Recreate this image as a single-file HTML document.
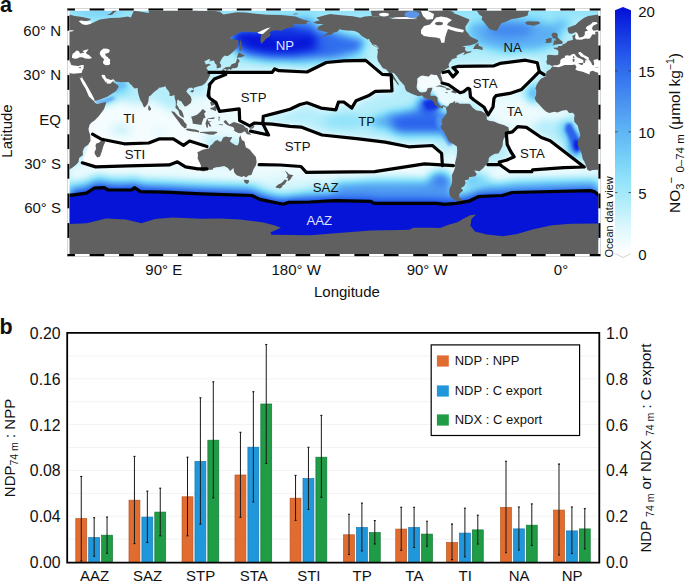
<!DOCTYPE html><html><head><meta charset="utf-8"><style>
html,body{margin:0;padding:0;background:#fff;}
body{width:685px;height:582px;position:relative;overflow:hidden;font-family:"Liberation Sans", sans-serif;color:#111;}
.t{position:absolute;white-space:nowrap;line-height:1;}
svg{position:absolute;left:0;top:0;}
</style></head><body>
<svg width="685" height="582" viewBox="0 0 685 582" font-family='"Liberation Sans", sans-serif'>
<defs>
<clipPath id="mc"><rect x="69.3" y="10.5" width="529.1" height="243.5"/></clipPath>
<filter id="fld" x="-5%" y="-5%" width="110%" height="110%" color-interpolation-filters="sRGB"><feGaussianBlur stdDeviation="5"/><feComponentTransfer><feFuncR type="table" tableValues="1.0000 0.8706 0.7137 0.5725 0.4549 0.3765 0.3059 0.2275 0.1569 0.0863 0.0235"/><feFuncG type="table" tableValues="1.0000 0.9725 0.9333 0.8902 0.8118 0.7098 0.6000 0.4863 0.3686 0.2275 0.0784"/><feFuncB type="table" tableValues="1.0000 0.9922 0.9843 0.9804 0.9725 0.9608 0.9490 0.9412 0.9255 0.8941 0.8471"/></feComponentTransfer></filter>
<filter id="cmap" x="-5%" y="-5%" width="110%" height="110%" color-interpolation-filters="sRGB"><feComponentTransfer><feFuncR type="table" tableValues="1.0000 0.8706 0.7137 0.5725 0.4549 0.3765 0.3059 0.2275 0.1569 0.0863 0.0235"/><feFuncG type="table" tableValues="1.0000 0.9725 0.9333 0.8902 0.8118 0.7098 0.6000 0.4863 0.3686 0.2275 0.0784"/><feFuncB type="table" tableValues="1.0000 0.9922 0.9843 0.9804 0.9725 0.9608 0.9490 0.9412 0.9255 0.8941 0.8471"/></feComponentTransfer></filter>
<filter id="fld2" x="-5%" y="-5%" width="110%" height="110%" color-interpolation-filters="sRGB"><feGaussianBlur stdDeviation="1.8"/><feComponentTransfer><feFuncR type="table" tableValues="1.0000 0.8706 0.7137 0.5725 0.4549 0.3765 0.3059 0.2275 0.1569 0.0863 0.0235"/><feFuncG type="table" tableValues="1.0000 0.9725 0.9333 0.8902 0.8118 0.7098 0.6000 0.4863 0.3686 0.2275 0.0784"/><feFuncB type="table" tableValues="1.0000 0.9922 0.9843 0.9804 0.9725 0.9608 0.9490 0.9412 0.9255 0.8941 0.8471"/></feComponentTransfer></filter>
</defs>
<g clip-path="url(#mc)">
<g filter="url(#fld)">
<rect x="40.0" y="0.0" width="600.0" height="260.0" fill="#333333"/>
<rect x="40.0" y="0.0" width="600.0" height="18.0" fill="#4c4c4c"/>
<ellipse cx="413.0" cy="14.0" rx="10.0" ry="4.0" fill="#8c8c8c"/>
<ellipse cx="100.0" cy="14.0" rx="25.0" ry="5.0" fill="#666666"/>
<ellipse cx="432.0" cy="80.0" rx="14.0" ry="9.0" fill="#0a0a0a"/>
<path d="M75.0,100.0 L110.0,100.0 L140.0,105.0 L150.0,100.0 L165.0,108.0 L180.0,115.0 L195.0,125.0 L205.0,140.0 L207.0,148.0 L150.0,145.0 L100.0,142.0 L80.0,138.0 L72.0,120.0Z" fill="#080808"/>
<ellipse cx="121.0" cy="130.0" rx="11.0" ry="4.0" fill="#333333"/>
<ellipse cx="160.0" cy="132.0" rx="8.0" ry="4.0" fill="#1a1a1a"/>
<ellipse cx="118.0" cy="80.0" rx="14.0" ry="8.0" fill="#474747"/>
<ellipse cx="106.0" cy="100.0" rx="11.0" ry="2.5" fill="#a6a6a6" transform="rotate(-12 106 100)"/>
<ellipse cx="121.0" cy="88.0" rx="7.0" ry="5.0" fill="#808080"/>
<path d="M209.0,72.4 L272.0,72.4 L274.7,68.9 L279.0,70.7 L307.0,72.0 L326.3,62.5 L343.8,60.8 L365.7,60.4 L382.3,74.4 L391.1,74.8 L392.0,90.9 L375.3,91.4 L368.3,95.8 L356.0,100.7 L351.7,108.1 L343.8,102.0 L338.5,102.0 L335.9,109.8 L321.0,108.1 L307.0,102.8 L300.0,104.5 L290.0,109.2 L275.5,113.1 L263.3,116.2 L262.8,123.6 L254.5,123.0 L249.7,125.8 L239.7,120.6 L239.2,108.8 L219.5,111.3 L216.0,102.6 L209.9,98.2 L208.1,95.5 L209.9,84.2 L214.3,78.9 L225.7,74.5 L225.0,72.6 L209.0,72.4Z" fill="#000000"/>
<path d="M262.8,123.6 L272.0,124.1 L290.0,126.3 L301.0,127.1 L322.0,135.0 L358.8,138.9 L385.1,142.1 L408.7,146.8 L432.4,145.5 L441.6,153.4 L442.4,165.7 L442.4,165.7 L424.5,163.9 L374.6,171.7 L306.3,172.3 L301.0,166.5 L280.0,165.0 L259.1,164.7 L250.0,162.0 L244.0,145.0 L240.0,136.0 L250.6,131.1 L268.5,135.0Z" fill="#000000"/>
<path d="M443.0,72.5 L448.6,71.2 L453.0,76.9 L457.4,72.1 L453.0,67.7 L458.3,66.4 L494.0,65.8 L499.9,63.4 L525.5,60.2 L537.3,62.8 L539.3,71.7 L533.4,77.6 L521.6,89.4 L509.7,93.4 L496.0,95.7 L494.0,98.3 L493.0,107.2 L488.1,115.0 L484.1,107.2 L474.0,100.0 L470.5,97.0 L469.7,89.2 L467.9,88.3 L463.5,91.8 L460.0,92.7 L448.6,84.8 L442.1,83.0Z" fill="#000000"/>
<path d="M506.3,133.1 L512.4,131.9 L517.7,126.7 L526.4,127.4 L541.3,137.5 L550.1,140.7 L584.2,167.0 L564.1,167.7 L532.6,169.9 L531.7,171.7 L509.8,171.7 L501.0,165.5 L499.3,162.0 L506.3,160.3 L514.2,156.8 L510.7,151.5 L507.2,144.5 L506.3,133.1Z" fill="#000000"/>
<path d="M92.5,134.2 L101.7,139.3 L124.2,143.8 L148.7,143.0 L159.0,138.9 L173.3,138.9 L183.5,145.4 L189.6,141.0 L207.0,146.5 L207.0,168.9 L197.8,168.9 L185.5,166.9 L177.4,161.8 L169.2,164.9 L128.3,165.9 L95.6,166.9 L82.3,162.8Z" fill="#000000"/>
<rect x="69.0" y="166.0" width="530.0" height="14.0" fill="#0d0d0d"/>
<path d="M226.0,36.0 L236.0,28.0 L262.0,26.0 L270.0,22.0 L300.0,20.0 L318.0,26.0 L335.0,32.0 L350.0,36.0 L365.0,40.0 L360.0,52.0 L330.0,58.0 L300.0,60.0 L270.0,60.0 L245.0,56.0 L232.0,48.0Z" fill="#d9d9d9"/>
<ellipse cx="282.0" cy="42.0" rx="40.0" ry="11.0" fill="#ffffff"/>
<ellipse cx="245.0" cy="36.0" rx="12.0" ry="6.0" fill="#ffffff"/>
<ellipse cx="288.0" cy="33.0" rx="24.0" ry="6.0" fill="#ebebeb"/>
<ellipse cx="305.0" cy="24.0" rx="10.0" ry="5.0" fill="#b2b2b2"/>
<ellipse cx="338.0" cy="44.0" rx="22.0" ry="9.0" fill="#bdbdbd"/>
<ellipse cx="322.0" cy="30.0" rx="8.0" ry="4.0" fill="#8c8c8c"/>
<ellipse cx="330.0" cy="62.0" rx="40.0" ry="5.0" fill="#595959"/>
<path d="M468.0,24.0 L500.0,18.0 L540.0,20.0 L560.0,28.0 L560.0,42.0 L540.0,50.0 L505.0,52.0 L480.0,46.0 L468.0,36.0Z" fill="#858585"/>
<ellipse cx="510.0" cy="30.0" rx="24.0" ry="8.0" fill="#a8a8a8"/>
<ellipse cx="470.0" cy="40.0" rx="8.0" ry="8.0" fill="#666666"/>
<ellipse cx="561.0" cy="25.0" rx="10.0" ry="5.0" fill="#808080"/>
<ellipse cx="345.0" cy="121.0" rx="22.0" ry="6.0" fill="#525252"/>
<path d="M385.0,114.0 L420.0,111.0 L442.0,114.0 L447.0,126.0 L442.0,134.0 L400.0,134.0 L387.0,128.0Z" fill="#c7c7c7"/>
<ellipse cx="382.0" cy="122.0" rx="12.0" ry="6.0" fill="#8c8c8c"/>
<ellipse cx="429.0" cy="104.0" rx="11.0" ry="7.0" fill="#f7f7f7"/>
<ellipse cx="422.0" cy="113.0" rx="20.0" ry="4.0" fill="#b8b8b8"/>
<ellipse cx="447.0" cy="126.0" rx="5.0" ry="12.0" fill="#b8b8b8"/>
<ellipse cx="447.0" cy="152.0" rx="5.0" ry="8.0" fill="#333333"/>
<ellipse cx="515.0" cy="112.0" rx="30.0" ry="16.0" fill="#0d0d0d"/>
<ellipse cx="555.0" cy="113.0" rx="18.0" ry="6.0" fill="#0a0a0a"/>
<ellipse cx="575.0" cy="145.0" rx="5.0" ry="12.0" fill="#f2f2f2"/>
<ellipse cx="567.0" cy="129.0" rx="6.0" ry="9.0" fill="#808080"/>
<ellipse cx="533.0" cy="94.0" rx="5.0" ry="9.0" fill="#9e9e9e"/>
<path d="M180.0,100.0 L200.0,95.0 L215.0,100.0 L240.0,112.0 L262.0,122.0 L262.0,135.0 L240.0,140.0 L215.0,137.0 L195.0,133.0 L185.0,125.0 L178.0,112.0Z" fill="#0f0f0f"/>
<ellipse cx="440.0" cy="182.0" rx="12.0" ry="10.0" fill="#bfbfbf"/>
<ellipse cx="478.0" cy="182.0" rx="14.0" ry="7.0" fill="#9e9e9e"/>
<ellipse cx="452.0" cy="160.0" rx="5.0" ry="11.0" fill="#0a0a0a"/>
<path d="M69.0,179.1 L71.9,179.1 L86.6,177.1 L94.4,172.0 L104.2,171.7 L108.1,174.0 L131.6,174.0 L134.5,171.7 L140.4,175.6 L164.8,176.2 L201.0,177.9 L251.9,179.5 L259.7,183.4 L283.2,188.3 L289.0,186.3 L310.0,186.0 L335.0,184.6 L370.8,185.4 L374.0,187.3 L436.8,187.3 L444.6,188.3 L456.3,187.3 L469.0,185.2 L478.8,180.5 L502.3,179.5 L512.0,176.5 L590.3,174.6 L594.2,175.6 L599.0,179.1 L599.0,240.0 L69.0,240.0Z" fill="#1a1a1a"/>
<path d="M69.0,182.6 L71.9,182.6 L86.6,180.6 L94.4,175.5 L104.2,175.2 L108.1,177.5 L131.6,177.5 L134.5,175.2 L140.4,179.1 L164.8,179.7 L201.0,181.4 L251.9,183.0 L259.7,186.9 L283.2,191.8 L289.0,189.8 L310.0,189.5 L335.0,188.1 L370.8,188.9 L374.0,190.8 L436.8,190.8 L444.6,191.8 L456.3,190.8 L469.0,188.7 L478.8,184.0 L502.3,183.0 L512.0,180.0 L590.3,178.1 L594.2,179.1 L599.0,182.6 L599.0,240.0 L69.0,240.0Z" fill="#404040"/>
<path d="M69.0,185.1 L71.9,185.1 L86.6,183.1 L94.4,178.0 L104.2,177.7 L108.1,180.0 L131.6,180.0 L134.5,177.7 L140.4,181.6 L164.8,182.2 L201.0,183.9 L251.9,185.5 L259.7,189.4 L283.2,194.3 L289.0,192.3 L310.0,192.0 L335.0,190.6 L370.8,191.4 L374.0,193.3 L436.8,193.3 L444.6,194.3 L456.3,193.3 L469.0,191.2 L478.8,186.5 L502.3,185.5 L512.0,182.5 L590.3,180.6 L594.2,181.6 L599.0,185.1 L599.0,240.0 L69.0,240.0Z" fill="#666666"/>
<path d="M69.0,187.6 L71.9,187.6 L86.6,185.6 L94.4,180.5 L104.2,180.2 L108.1,182.5 L131.6,182.5 L134.5,180.2 L140.4,184.1 L164.8,184.7 L201.0,186.4 L251.9,188.0 L259.7,191.9 L283.2,196.8 L289.0,194.8 L310.0,194.5 L335.0,193.1 L370.8,193.9 L374.0,195.8 L436.8,195.8 L444.6,196.8 L456.3,195.8 L469.0,193.7 L478.8,189.0 L502.3,188.0 L512.0,185.0 L590.3,183.1 L594.2,184.1 L599.0,187.6 L599.0,240.0 L69.0,240.0Z" fill="#8f8f8f"/>
<path d="M69.0,190.1 L71.9,190.1 L86.6,188.1 L94.4,183.0 L104.2,182.7 L108.1,185.0 L131.6,185.0 L134.5,182.7 L140.4,186.6 L164.8,187.2 L201.0,188.9 L251.9,190.5 L259.7,194.4 L283.2,199.3 L289.0,197.3 L310.0,197.0 L335.0,195.6 L370.8,196.4 L374.0,198.3 L436.8,198.3 L444.6,199.3 L456.3,198.3 L469.0,196.2 L478.8,191.5 L502.3,190.5 L512.0,187.5 L590.3,185.6 L594.2,186.6 L599.0,190.1 L599.0,240.0 L69.0,240.0Z" fill="#b8b8b8"/>
<path d="M69.0,192.6 L71.9,192.6 L86.6,190.6 L94.4,185.5 L104.2,185.2 L108.1,187.5 L131.6,187.5 L134.5,185.2 L140.4,189.1 L164.8,189.7 L201.0,191.4 L251.9,193.0 L259.7,196.9 L283.2,201.8 L289.0,199.8 L310.0,199.5 L335.0,198.1 L370.8,198.9 L374.0,200.8 L436.8,200.8 L444.6,201.8 L456.3,200.8 L469.0,198.7 L478.8,194.0 L502.3,193.0 L512.0,190.0 L590.3,188.1 L594.2,189.1 L599.0,192.6 L599.0,240.0 L69.0,240.0Z" fill="#e0e0e0"/>
<path d="M69.0,195.1 L71.9,195.1 L86.6,193.1 L94.4,188.0 L104.2,187.7 L108.1,190.0 L131.6,190.0 L134.5,187.7 L140.4,191.6 L164.8,192.2 L201.0,193.9 L251.9,195.5 L259.7,199.4 L283.2,204.3 L289.0,202.3 L310.0,202.0 L335.0,200.6 L370.8,201.4 L374.0,203.3 L436.8,203.3 L444.6,204.3 L456.3,203.3 L469.0,201.2 L478.8,196.5 L502.3,195.5 L512.0,192.5 L590.3,190.6 L594.2,191.6 L599.0,195.1 L599.0,240.0 L69.0,240.0Z" fill="#ffffff"/>
<path d="M335.0,183.0 L380.0,181.0 L430.0,181.0 L452.0,184.0 L452.0,197.0 L335.0,199.0Z" fill="#999999"/>
<ellipse cx="395.0" cy="181.0" rx="35.0" ry="3.0" fill="#666666"/>
<path d="M485.0,185.0 L540.0,183.0 L598.0,181.0 L598.0,191.0 L540.0,193.0 L485.0,195.0Z" fill="#999999"/>
<ellipse cx="285.0" cy="185.0" rx="25.0" ry="10.0" fill="#1f1f1f"/>
</g>
<g filter="url(#fld2)">
<path d="M416.9,78.8 L416.9,86.9 L420.6,91.7 L426.5,91.7 L427.2,88.4 L432.3,87.7 L436.8,86.9 L441.2,82.5 L439.0,78.1 L436.8,75.1 L430.9,74.4 L427.9,75.8 L422.0,75.4Z" fill="#080808"/>
<path d="M432.3,88.4 L436.8,97.3 L439.0,104.0 L448.5,105.4 L455.9,101.7 L469.1,103.5 L471.3,97.3 L464.7,92.1 L451.5,89.2 L442.6,86.2 L435.3,86.2Z" fill="#121212"/>
<path d="M95.0,101.0 L104.0,100.5 L112.0,97.0 L116.0,97.5 L112.0,100.0 L104.0,103.0 L96.0,103.0Z" fill="#9e9e9e"/>
<path d="M112.0,84.0 L118.0,82.0 L125.0,83.0 L127.0,86.0 L121.0,88.0 L115.0,93.0 L112.0,91.0Z" fill="#737373"/>
<path d="M423.0,102.0 L431.0,99.0 L438.0,101.5 L441.0,106.0 L435.0,109.5 L427.0,109.0Z" fill="#ebebeb"/>
<path d="M437.0,116.0 L446.0,114.0 L450.0,128.0 L454.0,142.0 L449.0,146.0 L442.0,134.0 L436.0,124.0Z" fill="#9e9e9e"/>
<path d="M566.0,124.0 L571.0,123.0 L578.0,137.0 L581.0,150.0 L576.0,153.0 L571.0,142.0 L565.0,130.0Z" fill="#c7c7c7"/>
<ellipse cx="576.5" cy="145.0" rx="3.0" ry="6.0" fill="#f7f7f7"/>
</g>
<path d="M69.0,195.1 L71.9,195.1 L86.6,193.1 L94.4,188.0 L104.2,187.7 L108.1,190.0 L131.6,190.0 L134.5,187.7 L140.4,191.6 L164.8,192.2 L201.0,193.9 L251.9,195.5 L259.7,199.4 L283.2,204.3 L289.0,202.3 L310.0,202.0 L335.0,200.6 L370.8,201.4 L374.0,203.3 L436.8,203.3 L444.6,204.3 L456.3,203.3 L469.0,201.2 L478.8,196.5 L502.3,195.5 L512.0,192.5 L590.3,190.6 L594.2,191.6 L599.0,195.1 L599.0,240.0 L69.0,240.0Z" fill="#0614d8"/>
<path d="M209.0,72.4 L272.0,72.4 L274.7,68.9 L279.0,70.7 L307.0,72.0 L326.3,62.5 L343.8,60.8 L365.7,60.4 L382.3,74.4 L391.1,74.8 L392.0,90.9 L375.3,91.4 L368.3,95.8 L356.0,100.7 L351.7,108.1 L343.8,102.0 L338.5,102.0 L335.9,109.8 L321.0,108.1 L307.0,102.8 L300.0,104.5 L290.0,109.2 L275.5,113.1 L263.3,116.2 L262.8,123.6 L254.5,123.0 L249.7,125.8 L239.7,120.6 L239.2,108.8 L219.5,111.3 L216.0,102.6 L209.9,98.2 L208.1,95.5 L209.9,84.2 L214.3,78.9 L225.7,74.5 L225.0,72.6 L209.0,72.4Z" fill="#ffffff"/>
<path d="M262.8,123.6 L272.0,124.1 L290.0,126.3 L301.0,127.1 L322.0,135.0 L358.8,138.9 L385.1,142.1 L408.7,146.8 L432.4,145.5 L441.6,153.4 L442.4,165.7 L442.4,165.7 L424.5,163.9 L374.6,171.7 L306.3,172.3 L301.0,166.5 L280.0,165.0 L259.1,164.7 L250.0,162.0 L244.0,145.0 L240.0,136.0 L250.6,131.1 L268.5,135.0Z" fill="#ffffff"/>
<path d="M443.0,72.5 L448.6,71.2 L453.0,76.9 L457.4,72.1 L453.0,67.7 L458.3,66.4 L494.0,65.8 L499.9,63.4 L525.5,60.2 L537.3,62.8 L539.3,71.7 L533.4,77.6 L521.6,89.4 L509.7,93.4 L496.0,95.7 L494.0,98.3 L493.0,107.2 L488.1,115.0 L484.1,107.2 L474.0,100.0 L470.5,97.0 L469.7,89.2 L467.9,88.3 L463.5,91.8 L460.0,92.7 L448.6,84.8 L442.1,83.0Z" fill="#ffffff"/>
<path d="M506.3,133.1 L512.4,131.9 L517.7,126.7 L526.4,127.4 L541.3,137.5 L550.1,140.7 L584.2,167.0 L564.1,167.7 L532.6,169.9 L531.7,171.7 L509.8,171.7 L501.0,165.5 L499.3,162.0 L506.3,160.3 L514.2,156.8 L510.7,151.5 L507.2,144.5 L506.3,133.1Z" fill="#ffffff"/>
<path d="M92.5,134.2 L101.7,139.3 L124.2,143.8 L148.7,143.0 L159.0,138.9 L173.3,138.9 L183.5,145.4 L189.6,141.0 L207.0,146.5 L207.0,168.9 L197.8,168.9 L185.5,166.9 L177.4,161.8 L169.2,164.9 L128.3,165.9 L95.6,166.9 L82.3,162.8Z" fill="#ffffff"/>
<path d="M22.6,66.2 L23.0,66.4 L30.8,67.7 L45.5,70.7 L60.2,75.1 L74.9,74.4 L84.5,73.6 L85.2,64.7 L70.5,58.1 L60.2,51.4 L48.5,51.4 L38.2,54.4 L30.8,58.8 L26.4,64.7Z M552.1,66.2 L552.5,66.4 L560.3,67.7 L575.0,70.7 L589.7,75.1 L604.4,74.4 L614.0,73.6 L614.7,64.7 L600.0,58.1 L589.7,51.4 L577.9,51.4 L567.7,54.4 L560.3,58.8 L555.9,64.7Z" fill="#ffffff"/>
<path d="M77.9,73.6 L83.0,75.1 L94.9,101.0 L94.4,101.7 L85.2,92.9 L77.9,75.8Z" fill="#ffffff"/>
<path d="M100.7,74.4 L105.8,73.6 L114.6,78.8 L114.4,81.0 L113.9,83.2 L105.8,84.7 L101.4,78.1Z" fill="#ffffff"/>
<path d="M44.8,40.3 L44.8,36.6 L47.0,32.2 L54.3,30.0 L55.1,26.3 L61.7,21.1 L69.1,21.8 L68.3,24.0 L64.6,27.7 L64.6,30.0 L76.4,29.2 L75.7,32.2 L67.6,34.4 L63.2,38.1 L51.4,40.6Z M574.3,40.3 L574.3,36.6 L576.5,32.2 L583.8,30.0 L584.6,26.3 L591.2,21.1 L598.5,21.8 L597.8,24.0 L594.1,27.7 L594.1,30.0 L605.9,29.2 L605.2,32.2 L597.1,34.4 L592.7,38.1 L580.9,40.6Z" fill="#ffffff"/>
<path d="M419.8,32.9 L419.8,28.5 L425.0,24.8 L430.9,22.6 L433.8,19.6 L439.7,20.3 L442.6,23.3 L454.4,25.5 L463.2,27.7 L465.4,30.0 L457.3,33.2 L447.3,36.6 L442.6,44.0 L439.7,42.5 L432.3,38.1Z" fill="#ffffff"/>
<path d="M257.3,32.2 L266.1,28.0 L272.0,26.6 L270.6,30.7 L263.2,34.4 L258.8,33.4Z" fill="#ffffff"/>
<path d="M78.3,73.2 L73.5,73.8 L67.6,72.6 L63.2,70.8 L60.4,71.8 L60.1,74.4 L53.2,71.7 L47.7,70.5 L45.8,69.2 L47.0,67.0 L45.5,64.4 L42.6,64.9 L35.2,65.0 L29.3,67.3 L22.7,66.4 L20.8,69.2 L17.1,71.4 L16.5,74.2 L16.1,76.6 L11.7,78.5 L9.5,80.9 L7.3,84.4 L5.8,88.4 L6.8,90.6 L6.5,95.5 L5.1,97.7 L6.2,101.1 L8.7,103.4 L11.4,106.5 L13.9,109.3 L16.8,111.7 L19.8,113.0 L24.9,111.8 L27.9,112.4 L33.0,110.5 L37.3,110.0 L39.6,113.1 L43.3,112.8 L45.2,115.1 L44.6,118.0 L44.8,121.7 L48.2,125.4 L48.9,128.5 L50.2,132.8 L50.8,135.8 L48.9,139.5 L48.2,144.7 L49.2,146.9 L52.1,153.4 L53.2,159.0 L54.9,161.8 L57.0,166.9 L57.9,169.8 L60.2,171.0 L63.2,170.1 L68.5,169.8 L72.0,168.0 L76.3,164.6 L78.5,162.1 L79.1,158.0 L83.0,155.0 L82.7,151.3 L84.5,147.3 L88.2,144.7 L90.5,141.0 L90.2,135.0 L88.9,131.3 L88.5,129.1 L89.6,124.7 L91.9,122.3 L94.8,120.2 L98.5,116.5 L101.4,112.8 L104.1,109.1 L105.8,104.1 L106.3,102.0 L101.4,102.9 L97.0,104.1 L94.2,102.3 L94.5,101.4 L92.1,99.5 L88.9,96.6 L87.4,92.9 L85.5,88.4 L83.0,84.7 L80.8,80.3 L78.8,75.2Z M607.8,73.2 L603.0,73.8 L597.1,72.6 L592.7,70.8 L589.9,71.8 L589.6,74.4 L582.7,71.7 L577.2,70.5 L575.3,69.2 L576.5,67.0 L575.0,64.4 L572.1,64.9 L564.7,65.0 L558.8,67.3 L552.2,66.4 L550.3,69.2 L546.6,71.4 L546.0,74.2 L545.6,76.6 L541.2,78.5 L539.0,80.9 L536.8,84.4 L535.3,88.4 L536.3,90.6 L536.0,95.5 L534.6,97.7 L535.7,101.1 L538.2,103.4 L540.9,106.5 L543.4,109.3 L546.3,111.7 L549.3,113.0 L554.4,111.8 L557.4,112.4 L562.5,110.5 L566.8,110.0 L569.1,113.1 L572.8,112.8 L574.7,115.1 L574.1,118.0 L574.3,121.7 L577.7,125.4 L578.4,128.5 L579.7,132.8 L580.3,135.8 L578.4,139.5 L577.7,144.7 L578.7,146.9 L581.6,153.4 L582.7,159.0 L584.4,161.8 L586.5,166.9 L587.4,169.8 L589.7,171.0 L592.7,170.1 L598.0,169.8 L601.5,168.0 L605.7,164.6 L608.0,162.1 L608.5,158.0 L612.5,155.0 L612.2,151.3 L614.0,147.3 L617.7,144.7 L620.0,141.0 L619.7,135.0 L618.4,131.3 L618.0,129.1 L619.1,124.7 L621.3,122.3 L624.3,120.2 L628.0,116.5 L630.9,112.8 L633.5,109.1 L635.3,104.1 L635.8,102.0 L630.9,102.9 L626.5,104.1 L623.7,102.3 L624.0,101.4 L621.6,99.5 L618.4,96.6 L616.9,92.9 L615.0,88.4 L612.5,84.7 L610.3,80.3 L608.2,75.2Z M22.6,66.2 L24.3,65.2 L27.7,65.2 L30.1,63.9 L31.1,62.1 L30.4,61.0 L32.1,58.8 L35.5,57.5 L35.4,55.7 L37.7,55.3 L40.5,55.7 L41.8,54.7 L43.8,53.8 L45.8,54.5 L46.3,56.0 L48.8,57.8 L51.4,58.8 L53.9,60.3 L53.9,63.0 L54.5,63.4 L56.0,61.8 L55.2,60.2 L58.0,60.2 L55.8,58.8 L54.3,57.5 L51.4,56.5 L48.9,53.6 L49.0,52.3 L51.0,52.0 L52.9,53.5 L54.3,55.1 L56.6,55.9 L59.3,57.5 L59.3,59.7 L60.7,61.0 L61.8,62.8 L62.7,64.9 L63.9,65.6 L64.8,64.0 L64.3,61.9 L64.1,59.9 L66.0,59.4 L69.1,59.1 L69.3,61.2 L70.5,62.8 L71.0,64.7 L72.3,65.2 L75.7,65.8 L78.6,66.1 L81.7,65.0 L84.1,65.3 L83.5,67.0 L83.8,68.3 L83.0,69.3 L82.3,70.7 L81.6,72.9 L78.3,73.3 L78.6,75.2 L80.1,77.8 L81.3,78.4 L82.1,75.8 L82.3,78.1 L85.2,82.5 L88.2,87.7 L91.9,94.3 L94.1,98.5 L94.6,100.7 L97.0,100.6 L102.1,98.8 L107.6,96.4 L112.3,93.6 L115.4,91.5 L117.3,89.3 L118.8,86.2 L116.9,84.4 L113.8,82.6 L113.6,80.7 L112.4,81.8 L110.2,83.7 L106.6,83.5 L106.7,81.2 L105.5,82.5 L104.4,80.3 L102.1,77.3 L101.4,75.1 L102.9,74.7 L104.8,75.0 L105.5,76.9 L106.6,78.4 L111.0,80.1 L113.6,79.2 L115.4,81.5 L121.4,82.2 L128.6,81.9 L130.1,84.0 L131.6,84.9 L132.3,86.3 L134.5,88.6 L137.6,88.0 L137.9,91.4 L138.8,95.8 L140.4,100.3 L142.3,103.2 L143.3,106.3 L144.8,107.5 L145.8,106.3 L147.4,104.3 L148.3,101.7 L148.9,96.6 L150.7,95.4 L153.5,92.6 L156.0,90.6 L158.5,88.7 L158.8,87.7 L161.0,87.4 L163.2,86.9 L165.4,86.2 L166.7,88.9 L168.3,90.6 L169.8,93.6 L169.4,95.8 L171.3,96.1 L174.4,95.1 L174.7,98.0 L175.7,101.7 L175.8,105.0 L175.4,107.7 L178.3,110.6 L179.8,115.2 L183.0,117.6 L184.1,117.4 L182.9,113.3 L181.3,110.3 L179.4,109.3 L178.3,106.9 L176.7,104.7 L177.3,100.3 L178.2,99.4 L179.4,100.7 L181.6,101.4 L182.3,103.2 L185.0,106.8 L187.5,105.4 L191.0,102.8 L191.6,99.5 L190.7,96.6 L187.5,93.0 L186.3,91.4 L187.7,88.9 L189.7,87.7 L192.3,87.7 L193.2,89.5 L194.1,87.7 L197.7,86.6 L202.2,85.6 L205.5,82.9 L208.0,79.2 L210.1,75.2 L210.1,72.9 L208.6,71.1 L206.3,68.1 L208.2,66.1 L211.0,64.9 L208.8,63.7 L205.8,64.4 L205.1,62.4 L204.1,61.5 L206.6,60.3 L209.1,59.0 L210.5,59.7 L209.1,61.8 L211.0,61.0 L213.9,60.6 L215.1,63.6 L216.6,64.7 L216.7,68.4 L218.5,68.1 L221.0,67.3 L221.1,65.0 L219.7,62.7 L221.6,59.0 L223.0,56.9 L225.0,55.6 L227.2,56.2 L230.1,54.5 L234.1,50.7 L237.0,48.0 L237.5,44.8 L238.8,41.8 L237.8,40.3 L233.3,39.3 L229.7,38.5 L232.3,35.9 L237.5,33.4 L241.1,31.7 L248.5,31.7 L254.4,32.2 L258.8,31.9 L266.1,28.5 L270.6,27.3 L263.2,33.7 L261.0,35.1 L260.3,41.1 L261.3,44.0 L263.9,41.2 L266.1,38.8 L269.8,36.3 L270.8,34.0 L269.1,33.2 L271.6,31.0 L275.0,30.3 L281.6,30.7 L286.0,28.2 L291.9,27.0 L294.8,27.3 L294.1,25.5 L292.6,23.7 L298.5,24.3 L305.9,24.3 L307.3,21.8 L310.3,21.5 L302.9,19.6 L298.5,17.7 L295.6,16.6 L280.8,15.0 L267.6,14.7 L255.8,13.8 L245.5,12.5 L236.7,12.2 L223.5,14.4 L219.8,11.8 L213.2,10.7 L198.5,10.6 L195.5,7.0 L185.2,4.1 L175.0,6.3 L160.2,7.8 L148.5,10.7 L149.2,12.9 L145.5,12.5 L139.7,11.5 L133.8,10.7 L130.8,17.4 L127.9,16.6 L119.1,17.7 L110.2,18.1 L99.9,19.5 L95.5,21.5 L90.4,23.9 L86.7,24.0 L82.3,21.8 L89.6,20.3 L91.1,18.9 L82.3,16.9 L74.9,15.9 L69.1,14.4 L58.8,15.9 L54.3,18.1 L49.2,21.8 L46.3,24.8 L38.2,27.7 L38.2,30.7 L39.6,33.4 L42.6,33.7 L46.3,31.9 L47.7,32.9 L48.5,34.4 L49.6,37.5 L51.8,37.2 L54.3,36.3 L55.2,34.7 L55.4,31.6 L58.5,30.7 L56.3,28.3 L57.3,26.6 L61.7,24.0 L62.9,22.3 L66.8,22.1 L68.2,23.4 L63.6,25.8 L62.4,28.5 L63.9,30.7 L69.1,30.1 L74.2,30.4 L72.0,31.4 L66.1,31.7 L65.4,32.9 L66.6,34.3 L62.6,34.5 L61.7,36.6 L60.1,38.8 L58.2,38.7 L55.8,38.5 L51.7,39.7 L47.0,39.6 L46.3,38.7 L45.5,37.4 L46.3,34.3 L42.7,35.9 L43.5,37.7 L43.5,39.7 L41.1,40.5 L38.2,41.1 L37.0,42.5 L35.7,43.6 L33.2,44.2 L32.9,45.4 L30.8,46.1 L28.9,46.1 L28.2,47.4 L23.9,47.7 L24.5,48.8 L27.7,49.8 L29.0,51.4 L28.6,55.1 L25.2,55.3 L19.0,54.8 L17.3,55.7 L17.7,58.8 L16.8,62.2 L17.9,64.7 L19.9,64.4 L21.5,65.5Z M552.1,66.2 L553.8,65.2 L557.2,65.2 L559.6,63.9 L560.6,62.1 L559.9,61.0 L561.6,58.8 L565.0,57.5 L564.9,55.7 L567.2,55.3 L570.0,55.7 L571.3,54.7 L573.2,53.8 L575.3,54.5 L575.7,56.0 L578.2,57.8 L580.9,58.8 L583.4,60.3 L583.4,63.0 L584.0,63.4 L585.5,61.8 L584.7,60.2 L587.5,60.2 L585.3,58.8 L583.8,57.5 L580.9,56.5 L578.4,53.6 L578.5,52.3 L580.4,52.0 L582.4,53.5 L583.8,55.1 L586.0,55.9 L588.8,57.5 L588.8,59.7 L590.2,61.0 L591.3,62.8 L592.2,64.9 L593.4,65.6 L594.3,64.0 L593.8,61.9 L593.5,59.9 L595.5,59.4 L598.5,59.1 L598.8,61.2 L600.0,62.8 L600.5,64.7 L601.8,65.2 L605.2,65.8 L608.1,66.1 L611.2,65.0 L613.5,65.3 L613.0,67.0 L613.2,68.3 L612.5,69.3 L611.8,70.7 L611.0,72.9 L607.8,73.3 L608.1,75.2 L609.6,77.8 L610.7,78.4 L611.6,75.8 L611.8,78.1 L614.7,82.5 L617.7,87.7 L621.3,94.3 L623.5,98.5 L624.1,100.7 L626.5,100.6 L631.6,98.8 L637.1,96.4 L641.8,93.6 L644.9,91.5 L646.8,89.3 L648.3,86.2 L646.3,84.4 L643.3,82.6 L643.1,80.7 L641.9,81.8 L639.7,83.7 L636.0,83.5 L636.2,81.2 L635.0,82.5 L633.8,80.3 L631.6,77.3 L630.9,75.1 L632.4,74.7 L634.3,75.0 L635.0,76.9 L636.0,78.4 L640.5,80.1 L643.1,79.2 L644.9,81.5 L650.9,82.2 L658.1,81.9 L659.6,84.0 L661.0,84.9 L661.8,86.3 L664.0,88.6 L667.1,88.0 L667.4,91.4 L668.3,95.8 L669.9,100.3 L671.8,103.2 L672.8,106.3 L674.3,107.5 L675.3,106.3 L676.9,104.3 L677.8,101.7 L678.4,96.6 L680.2,95.4 L683.0,92.6 L685.5,90.6 L688.0,88.7 L688.3,87.7 L690.5,87.4 L692.7,86.9 L694.9,86.2 L696.2,88.9 L697.8,90.6 L699.3,93.6 L698.8,95.8 L700.8,96.1 L703.9,95.1 L704.1,98.0 L705.2,101.7 L705.3,105.0 L704.9,107.7 L707.8,110.6 L709.3,115.2 L712.5,117.6 L713.6,117.4 L712.4,113.3 L710.8,110.3 L708.9,109.3 L707.8,106.9 L706.2,104.7 L706.8,100.3 L707.7,99.4 L708.9,100.7 L711.1,101.4 L711.8,103.2 L714.4,106.8 L716.9,105.4 L720.5,102.8 L721.1,99.5 L720.2,96.6 L716.9,93.0 L715.8,91.4 L717.2,88.9 L719.1,87.7 L721.8,87.7 L722.7,89.5 L723.6,87.7 L727.2,86.6 L731.6,85.6 L735.0,82.9 L737.5,79.2 L739.6,75.2 L739.6,72.9 L738.1,71.1 L735.8,68.1 L737.7,66.1 L740.5,64.9 L738.3,63.7 L735.3,64.4 L734.6,62.4 L733.6,61.5 L736.1,60.3 L738.6,59.0 L740.0,59.7 L738.6,61.8 L740.5,61.0 L743.4,60.6 L744.6,63.6 L746.1,64.7 L746.2,68.4 L748.0,68.1 L750.5,67.3 L750.6,65.0 L749.2,62.7 L751.1,59.0 L752.5,56.9 L754.4,55.6 L756.7,56.2 L759.6,54.5 L763.6,50.7 L766.5,48.0 L766.9,44.8 L768.3,41.8 L767.2,40.3 L762.8,39.3 L759.2,38.5 L761.8,35.9 L766.9,33.4 L770.6,31.7 L778.0,31.7 L783.9,32.2 L788.3,31.9 L795.6,28.5 L800.0,27.3 L792.7,33.7 L790.5,35.1 L789.7,41.1 L790.8,44.0 L793.4,41.2 L795.6,38.8 L799.3,36.3 L800.3,34.0 L798.6,33.2 L801.1,31.0 L804.5,30.3 L811.1,30.7 L815.5,28.2 L821.4,27.0 L824.3,27.3 L823.6,25.5 L822.1,23.7 L828.0,24.3 L835.3,24.3 L836.8,21.8 L839.8,21.5 L832.4,19.6 L828.0,17.7 L825.0,16.6 L810.3,15.0 L797.1,14.7 L785.3,13.8 L775.0,12.5 L766.2,12.2 L753.0,14.4 L749.3,11.8 L742.7,10.7 L728.0,10.6 L725.0,7.0 L714.7,4.1 L704.4,6.3 L689.7,7.8 L678.0,10.7 L678.7,12.9 L675.0,12.5 L669.1,11.5 L663.3,10.7 L660.3,17.4 L657.4,16.6 L648.5,17.7 L639.7,18.1 L629.4,19.5 L625.0,21.5 L619.9,23.9 L616.2,24.0 L611.8,21.8 L619.1,20.3 L620.6,18.9 L611.8,16.9 L604.4,15.9 L598.5,14.4 L588.2,15.9 L583.8,18.1 L578.7,21.8 L575.7,24.8 L567.7,27.7 L567.7,30.7 L569.1,33.4 L572.1,33.7 L575.7,31.9 L577.2,32.9 L577.9,34.4 L579.1,37.5 L581.3,37.2 L583.8,36.3 L584.7,34.7 L584.9,31.6 L588.0,30.7 L585.7,28.3 L586.8,26.6 L591.2,24.0 L592.4,22.3 L596.3,22.1 L597.7,23.4 L593.1,25.8 L591.9,28.5 L593.4,30.7 L598.5,30.1 L603.7,30.4 L601.5,31.4 L595.6,31.7 L594.9,32.9 L596.0,34.3 L592.1,34.5 L591.2,36.6 L589.6,38.8 L587.7,38.7 L585.3,38.5 L581.2,39.7 L576.5,39.6 L575.7,38.7 L575.0,37.4 L575.7,34.3 L572.2,35.9 L572.9,37.7 L572.9,39.7 L570.6,40.5 L567.7,41.1 L566.5,42.5 L565.2,43.6 L562.7,44.2 L562.4,45.4 L560.3,46.1 L558.4,46.1 L557.7,47.4 L553.4,47.7 L554.0,48.8 L557.2,49.8 L558.5,51.4 L558.1,55.1 L554.7,55.3 L548.5,54.8 L546.8,55.7 L547.2,58.8 L546.3,62.2 L547.4,64.7 L549.4,64.4 L551.0,65.5Z M313.2,22.4 L317.6,24.0 L323.5,24.0 L317.6,27.0 L317.6,30.0 L322.0,31.0 L327.9,32.6 L325.0,34.8 L319.8,37.8 L325.0,35.7 L330.9,34.7 L334.5,32.3 L337.0,31.9 L339.7,29.2 L342.6,30.0 L347.0,30.4 L352.9,30.8 L355.9,31.4 L358.8,33.1 L361.7,35.9 L364.7,37.8 L367.6,39.6 L369.1,38.8 L369.8,41.1 L372.0,44.0 L375.7,46.2 L379.1,48.0 L377.2,49.2 L377.9,51.4 L377.2,56.6 L377.6,59.7 L378.4,61.8 L380.1,64.0 L381.0,65.5 L382.9,68.3 L386.0,69.2 L388.1,71.4 L389.7,75.1 L392.2,78.1 L395.1,81.0 L398.5,85.6 L398.7,83.8 L396.3,80.3 L394.1,76.6 L391.6,72.6 L394.1,73.2 L397.0,76.6 L399.5,80.3 L404.4,85.5 L405.4,89.2 L406.6,91.2 L411.0,93.5 L413.5,94.6 L418.4,96.3 L422.0,95.5 L424.5,97.9 L427.9,99.1 L431.6,100.1 L434.3,103.1 L434.4,104.8 L435.9,105.3 L437.3,107.1 L440.1,107.5 L442.6,108.5 L443.5,106.3 L445.3,107.2 L446.5,108.0 L446.3,106.6 L443.4,105.3 L440.4,106.2 L439.0,105.3 L437.2,103.2 L437.5,101.0 L437.6,97.4 L435.3,95.8 L430.6,96.1 L430.4,93.6 L431.6,90.6 L432.6,87.7 L430.1,87.8 L427.3,88.4 L427.2,90.2 L425.7,92.1 L421.5,92.6 L419.4,91.8 L417.2,89.2 L416.6,86.9 L417.3,81.8 L417.3,78.4 L420.6,76.1 L422.5,75.5 L427.9,76.4 L429.1,76.3 L430.9,74.2 L434.5,75.1 L436.8,75.1 L438.5,78.1 L440.1,81.0 L441.0,82.2 L442.5,81.0 L441.8,77.5 L440.6,74.4 L441.2,72.3 L443.4,70.7 L445.7,69.2 L449.3,67.3 L448.5,64.9 L449.3,62.7 L451.3,60.6 L451.6,59.4 L455.9,58.1 L457.3,57.6 L456.3,55.9 L458.8,54.4 L461.8,53.2 L463.2,52.5 L465.0,52.5 L463.2,54.7 L463.8,55.1 L466.9,53.5 L470.6,52.5 L471.8,51.1 L469.8,51.6 L466.2,51.4 L465.0,49.2 L465.4,47.3 L463.2,46.5 L461.8,46.2 L470.6,45.2 L476.3,43.3 L477.9,41.8 L478.2,40.3 L475.0,38.8 L472.1,37.4 L469.8,35.9 L468.4,33.7 L465.4,30.3 L464.0,32.2 L461.0,33.2 L458.1,32.2 L457.3,29.2 L451.5,27.3 L445.6,27.1 L445.6,30.7 L446.3,33.7 L447.8,36.6 L444.1,38.8 L443.4,43.3 L439.7,41.8 L432.3,37.4 L425.0,35.1 L421.3,32.2 L421.3,29.2 L425.0,26.6 L427.2,25.5 L432.3,24.0 L433.8,21.1 L436.0,20.3 L439.7,17.4 L435.3,16.3 L430.9,18.1 L427.9,18.1 L422.0,16.6 L419.1,18.9 L416.2,19.2 L410.3,18.9 L401.5,18.6 L392.6,18.9 L388.2,17.1 L380.9,16.6 L375.0,16.6 L370.6,15.9 L364.7,16.6 L360.3,17.7 L352.9,16.3 L344.1,15.5 L336.7,14.7 L330.1,14.0 L325.0,15.2 L320.6,16.6 L316.1,17.7 L319.8,20.2 L316.9,21.1Z M446.6,106.9 L448.5,105.7 L449.3,104.0 L450.3,103.2 L452.5,102.8 L454.7,101.1 L455.4,102.0 L455.0,103.5 L457.0,102.3 L459.7,103.8 L463.2,103.8 L466.2,103.8 L469.1,103.7 L470.6,104.7 L472.1,106.9 L474.3,109.1 L476.5,110.6 L480.9,110.9 L483.8,112.4 L485.3,113.6 L486.8,116.8 L486.8,119.5 L489.0,120.7 L494.1,121.4 L498.5,123.5 L503.7,125.0 L508.4,127.2 L509.1,130.6 L508.4,133.6 L505.9,135.8 L503.7,138.7 L502.9,141.7 L502.6,145.7 L500.7,149.8 L498.5,153.4 L494.8,153.8 L491.2,155.8 L488.8,158.0 L488.5,161.7 L486.0,164.8 L483.1,168.3 L481.6,169.5 L479.4,171.2 L476.5,170.7 L474.3,170.4 L476.0,173.1 L476.8,174.3 L475.4,176.2 L469.1,177.2 L468.7,179.4 L464.7,180.2 L465.7,182.8 L464.3,186.1 L461.0,188.0 L463.2,190.5 L459.6,193.6 L458.8,196.5 L459.8,197.9 L464.0,200.9 L461.0,201.6 L457.3,200.9 L454.4,199.4 L450.7,197.2 L449.3,193.5 L449.3,189.1 L451.5,184.6 L452.2,180.9 L452.0,175.0 L453.7,171.3 L455.1,167.6 L455.1,162.4 L456.6,156.5 L457.2,150.6 L456.9,146.6 L454.4,144.7 L449.3,141.7 L447.9,139.5 L445.6,135.0 L443.4,131.0 L440.9,128.4 L440.7,125.9 L442.6,123.9 L441.5,121.7 L442.6,118.3 L444.1,117.3 L444.7,115.8 L446.6,113.6 L446.5,109.9 L445.7,108.7Z M496.3,31.0 L489.7,29.2 L486.0,24.8 L483.8,21.8 L481.6,19.6 L482.3,16.6 L479.4,14.7 L477.9,12.2 L475.0,8.5 L469.1,6.3 L457.3,4.1 L530.9,4.1 L530.9,8.5 L527.9,12.9 L527.9,15.2 L525.0,16.6 L516.2,18.6 L511.8,18.9 L505.9,21.8 L501.5,23.3 L499.3,26.3 L497.8,29.2Z M525.0,22.6 L527.9,21.2 L533.8,21.5 L538.2,21.4 L540.4,23.0 L538.2,24.3 L533.8,25.7 L529.4,25.1 L526.9,24.8Z M551.9,45.5 L555.9,44.6 L562.4,43.7 L562.8,41.7 L560.6,40.3 L558.1,38.1 L557.4,36.6 L557.7,34.3 L555.9,32.8 L552.9,32.8 L551.5,34.4 L552.1,36.6 L553.2,38.4 L555.4,38.4 L555.9,40.6 L553.5,40.6 L554.1,42.1 L552.7,43.0 L554.1,43.7Z M551.5,42.5 L551.5,39.7 L552.2,38.5 L549.3,37.7 L547.8,38.8 L545.6,39.3 L546.3,41.1 L545.2,42.8 L547.8,43.1Z M223.3,69.2 L223.5,68.4 L226.4,67.0 L230.1,66.7 L231.6,64.3 L233.8,63.6 L236.0,62.5 L236.7,59.6 L237.5,58.2 L238.9,59.6 L239.7,61.3 L238.2,63.3 L238.0,65.5 L237.5,67.3 L236.4,67.8 L234.5,68.3 L232.3,68.3 L230.8,69.9 L229.4,68.9 L225.0,69.3Z M221.6,69.9 L223.5,69.3 L225.0,70.7 L223.9,73.0 L222.3,73.3Z M225.7,69.5 L228.6,68.9 L228.9,69.5 L226.4,71.0Z M236.7,58.1 L237.5,55.6 L238.9,52.3 L241.9,53.9 L244.8,55.4 L241.6,57.3 L238.2,57.6Z M239.7,51.4 L239.4,48.5 L240.0,42.5 L240.7,39.1 L241.4,42.5 L241.4,46.7 L243.3,47.0 L241.1,49.2 L240.4,51.4Z M207.5,85.5 L208.6,86.9 L210.1,83.2 L209.5,82.1 L207.6,84.3Z M190.5,91.1 L193.3,89.8 L194.1,90.5 L192.6,92.6 L190.7,92.1Z M207.3,92.1 L210.5,92.1 L210.7,95.4 L209.7,97.3 L210.2,98.8 L213.2,100.3 L212.2,100.6 L209.8,99.1 L208.2,98.5 L207.0,95.4Z M210.1,109.1 L210.8,107.7 L213.5,107.2 L215.4,105.1 L216.9,108.7 L215.5,111.2 L213.2,110.0Z M210.2,102.0 L212.0,101.0 L215.4,101.0 L215.8,104.0 L214.4,104.7 L211.7,105.9 L210.5,104.0Z M191.1,116.8 L192.2,119.8 L192.9,123.8 L195.1,123.9 L198.5,124.5 L201.4,125.1 L202.3,121.7 L203.6,118.3 L205.5,117.7 L204.1,113.6 L206.1,111.7 L202.9,109.1 L201.4,110.2 L200.5,111.8 L197.0,114.8 L194.4,115.8 L192.0,116.5Z M171.0,111.2 L174.2,111.8 L178.3,116.2 L183.0,119.5 L184.5,122.2 L186.7,124.2 L186.4,128.1 L184.5,128.2 L181.3,125.4 L179.2,122.5 L176.4,118.8 L174.2,115.8Z M185.5,129.6 L187.5,128.4 L190.1,128.8 L193.3,129.3 L196.3,129.7 L199.2,130.9 L199.1,132.4 L195.5,131.8 L192.6,131.5 L189.7,131.0 L187.3,130.5Z M200.0,132.1 L205.8,131.8 L210.2,131.6 L214.7,131.6 L217.6,131.9 L216.9,133.1 L213.2,134.7 L208.8,134.6 L202.9,133.0 L200.0,132.7Z M205.5,123.6 L206.6,127.6 L207.9,127.8 L207.9,123.6 L209.5,126.6 L211.4,126.6 L209.2,122.3 L212.2,120.8 L208.5,121.4 L207.5,118.5 L214.7,117.3 L213.9,118.9 L208.2,119.1 L206.9,119.2Z M218.3,116.5 L220.3,117.3 L219.1,118.8 L219.8,120.7 L218.3,120.2 L218.8,118.0Z M218.8,124.2 L223.2,124.5 L222.8,125.3 L219.1,125.1Z M223.5,121.4 L225.7,120.1 L229.4,124.4 L233.8,121.9 L238.2,123.3 L243.3,125.1 L245.5,127.6 L247.8,128.4 L248.2,131.3 L251.4,134.7 L247.0,134.3 L244.8,131.3 L241.9,132.8 L240.4,133.3 L238.2,133.0 L235.3,131.5 L233.8,130.3 L234.5,129.1 L233.0,127.0 L229.4,125.9 L227.2,125.1 L225.0,123.6Z M248.9,127.6 L251.4,127.2 L253.6,125.7 L254.7,126.0 L252.9,128.5 L250.0,128.7Z M197.3,152.1 L198.6,151.8 L202.6,149.8 L205.8,149.1 L208.8,148.4 L210.5,145.4 L212.5,143.9 L215.0,141.0 L217.6,139.9 L219.4,141.6 L221.4,141.6 L222.3,139.3 L223.3,137.6 L225.8,136.4 L228.9,137.3 L231.6,137.1 L232.2,137.9 L230.8,139.2 L230.0,141.4 L232.3,143.2 L235.7,145.3 L237.9,145.3 L239.1,141.7 L239.1,138.1 L240.4,135.3 L241.9,139.9 L244.5,141.6 L245.8,147.3 L249.7,149.5 L252.2,152.8 L255.8,156.8 L256.7,161.7 L255.8,165.4 L253.6,169.1 L251.4,174.9 L248.3,175.6 L246.0,177.4 L243.9,176.0 L241.7,176.9 L237.8,175.7 L236.1,174.7 L234.1,172.2 L233.5,168.0 L230.1,171.0 L227.9,167.9 L224.2,166.1 L219.1,166.9 L216.1,167.3 L213.2,168.3 L212.5,169.7 L207.3,169.7 L204.4,171.3 L202.2,171.3 L200.0,170.3 L201.0,168.8 L201.0,166.1 L200.0,163.2 L198.8,160.9 L197.6,158.3 L198.0,155.8 L197.6,152.8Z M243.6,179.7 L248.9,180.0 L248.8,182.4 L247.0,184.0 L244.8,182.8Z M284.8,170.4 L287.5,172.5 L288.9,174.3 L293.3,175.3 L291.4,177.4 L290.8,179.0 L288.5,181.1 L287.6,180.5 L288.2,178.4 L286.4,177.7 L287.6,175.9 L287.0,174.0Z M284.8,179.4 L287.2,180.6 L285.6,182.8 L284.8,184.3 L282.8,185.2 L281.7,187.4 L279.8,188.5 L275.7,187.6 L275.8,186.4 L278.3,184.6 L281.6,183.1 L283.1,181.4Z M103.3,137.3 L105.1,142.3 L103.5,145.8 L101.4,152.8 L100.1,156.4 L97.3,157.4 L94.9,154.3 L94.5,152.1 L96.0,149.1 L95.5,145.4 L96.3,143.5 L98.9,142.7 L101.1,140.7Z M148.2,107.7 L148.8,105.0 L150.2,106.9 L151.1,108.7 L150.8,110.0 L149.2,110.8 L148.2,109.4Z M435.4,87.1 L438.2,85.6 L440.4,85.2 L443.4,86.1 L446.3,87.7 L449.1,88.4 L451.2,89.6 L449.3,90.0 L446.0,90.0 L446.6,89.0 L444.8,87.7 L441.2,86.9 L439.0,86.6Z M450.9,92.1 L453.2,90.0 L457.3,90.3 L459.8,92.0 L457.3,92.6 L455.3,93.5Z M445.1,92.3 L448.2,92.6 L447.3,93.2 L445.1,92.7Z M461.5,92.1 L463.8,92.3 L463.7,92.9 L461.5,92.9Z M472.9,49.1 L477.9,49.1 L482.8,49.9 L482.3,47.0 L478.7,45.8 L478.4,43.1 L475.7,44.6Z M371.4,44.3 L375.9,45.1 L379.0,47.9 L376.4,47.3 L373.5,45.6Z M469.1,21.1 L469.4,19.6 L464.7,17.4 L461.0,15.9 L457.3,14.4 L452.9,12.9 L450.0,12.2 L442.6,10.4 L433.8,10.7 L430.1,12.9 L433.1,15.9 L441.2,16.3 L445.6,16.3 L442.6,18.9 L448.5,20.6 L452.9,22.6 L457.3,26.3 L464.7,27.0 L466.2,25.5Z M442.3,25.4 L435.3,26.4 L432.3,24.0 L433.8,21.8 L438.2,23.0Z M411.0,16.6 L405.9,17.7 L398.5,17.7 L391.2,16.6 L386.7,14.4 L391.2,11.5 L398.5,11.8 L405.9,11.5 L410.3,13.7Z M389.7,13.7 L376.4,13.2 L377.2,9.2 L385.3,9.2 L389.7,10.7Z M423.5,14.4 L424.3,9.2 L411.7,9.2 L414.7,12.9Z M418.4,18.1 L414.7,17.4 L416.2,16.2 L419.8,16.6Z M106.6,14.7 L109.5,14.0 L111.7,12.2 L113.2,10.0 L117.6,7.5 L122.0,6.6 L127.9,5.7 L130.8,5.5 L124.9,7.8 L119.1,9.5 L114.6,12.2 L112.4,14.4 L110.2,15.0Z M578.5,63.3 L583.2,62.8 L582.5,65.2 L578.7,63.9Z M572.4,58.8 L574.4,58.7 L574.6,61.5 L572.8,61.8 L572.7,59.6Z M572.9,56.6 L574.1,55.9 L574.3,57.9 L573.2,58.1Z M65.4,67.3 L69.5,67.3 L69.3,67.7 L65.5,67.4Z M594.9,67.3 L599.0,67.3 L598.8,67.7 L595.0,67.4Z M78.3,67.7 L80.8,66.8 L80.8,68.3 L78.6,68.1Z M293.3,14.4 L298.5,14.0 L297.0,13.5 L293.6,13.7Z M232.3,10.3 L239.7,10.3 L244.1,7.8 L233.8,7.0Z" fill="#606060"/>
<path d="M69.0,223.9 L86.6,223.3 L106.0,218.6 L125.7,219.6 L141.4,223.3 L155.0,219.0 L172.7,217.4 L201.0,218.8 L220.6,218.6 L240.0,219.5 L263.4,222.6 L275.0,225.4 L280.9,227.7 L270.4,232.4 L271.5,234.7 L310.0,235.2 L345.0,232.4 L370.8,230.5 L400.0,230.0 L409.4,229.7 L413.3,227.8 L432.8,227.8 L440.0,228.0 L449.3,224.5 L457.5,222.2 L463.4,218.7 L470.4,215.2 L476.2,214.5 L471.5,218.7 L470.4,225.7 L475.0,231.5 L486.7,234.6 L503.0,236.2 L517.0,233.9 L533.4,229.2 L552.0,225.2 L570.8,223.8 L599.0,223.4 L599.0,256.0 L69.0,256.0Z" fill="#606060"/>
<path d="M372.0,16.2 L383.8,17.1 L398.5,18.4 L413.2,19.6 L427.9,18.1 L439.7,16.6 L445.6,15.6 L451.5,14.1 L454.4,12.6 L450.0,10.7 L442.6,8.5 L435.3,4.1 L369.1,4.1Z" fill="#606060"/>
<path d="M417,14 L455,14 L465,24 L466,34 L450,34 L448,45 L417,45 Z" fill="#606060"/>
<path d="M421.0,30.0 L424.0,26.0 L430.0,24.5 L433.0,21.0 L436.0,17.5 L441.0,16.5 L447.0,17.5 L452.0,20.0 L448.0,23.0 L447.0,25.0 L452.0,27.0 L458.0,28.5 L464.0,30.0 L463.0,32.5 L456.0,31.5 L448.0,29.0 L446.5,33.0 L445.0,38.0 L444.5,42.5 L441.5,43.0 L440.0,38.5 L436.0,37.5 L430.0,37.0 L424.0,36.0 L421.0,33.5Z" fill="#ffffff"/>
<ellipse cx="439" cy="23.5" rx="4" ry="1.8" fill="#606060"/>
<ellipse cx="384" cy="14.6" rx="5" ry="1.8" fill="#ffffff"/>
<ellipse cx="405" cy="18" rx="12" ry="0.9" fill="#ffffff"/>
<path d="M421,11 L428,11 L434,14 L433,19 L427,19.7 L423,16 Z" fill="#ffffff"/>
<ellipse cx="412" cy="14.5" rx="7.5" ry="3.5" fill="#5a96ea"/>
<path d="M72.0,55.9 L72.9,53.6 L74.9,52.2 L76.4,50.5 L78.6,51.1 L79.3,52.0 L80.1,53.6 L82.3,52.9 L84.5,52.5 L82.3,51.0 L86.0,49.8 L88.5,49.3 L87.0,51.4 L86.0,52.6 L86.7,53.9 L88.9,55.1 L92.0,57.9 L89.6,58.8 L85.2,58.5 L82.3,57.3 L79.8,57.3 L76.4,58.7 L73.8,58.5 L72.0,57.8Z" fill="#ffffff"/>
<path d="M99.6,53.6 L100.7,50.7 L103.6,48.5 L107.3,48.8 L109.9,49.9 L109.1,52.6 L106.6,53.6 L105.1,53.6 L105.8,55.9 L108.0,57.3 L108.5,58.5 L110.2,59.3 L109.9,61.8 L110.2,64.0 L108.8,65.0 L105.8,65.2 L103.6,64.0 L102.9,62.5 L103.8,60.0 L104.4,59.6 L102.9,58.1 L101.1,56.6 L100.4,55.1Z" fill="#ffffff"/>
<path d="M78.6,21.1 L82.3,24.3 L86.0,25.1 L90.4,24.0 L91.1,21.5 L86.7,21.4 L81.6,20.5Z" fill="#ffffff"/>
<path d="M209.0,72.4 L272.0,72.4 L274.7,68.9 L279.0,70.7 L307.0,72.0 L326.3,62.5 L343.8,60.8 L365.7,60.4 L382.3,74.4 L391.1,74.8 L392.0,90.9 L375.3,91.4 L368.3,95.8 L356.0,100.7 L351.7,108.1 L343.8,102.0 L338.5,102.0 L335.9,109.8 L321.0,108.1 L307.0,102.8 L300.0,104.5 L290.0,109.2 L275.5,113.1 L263.3,116.2 L262.8,123.6 L254.5,123.0 L249.7,125.8 L239.7,120.6 L239.2,108.8 L219.5,111.3 L216.0,102.6 L209.9,98.2 L208.1,95.5 L209.9,84.2 L214.3,78.9 L225.7,74.5 L225.0,72.6" fill="none" stroke="#000" stroke-width="3.2" stroke-linejoin="round" stroke-linecap="round"/>
<path d="M262.8,123.6 L272.0,124.1 L290.0,126.3 L301.0,127.1 L322.0,135.0 L358.8,138.9 L385.1,142.1 L408.7,146.8 L432.4,145.5 L441.6,153.4 L442.4,165.7" fill="none" stroke="#000" stroke-width="3.2" stroke-linejoin="round" stroke-linecap="round"/>
<path d="M453.4,165.7 L424.5,163.9 L374.6,171.7 L306.3,172.3 L301.0,166.5 L280.0,165.0 L259.1,164.7" fill="none" stroke="#000" stroke-width="3.2" stroke-linejoin="round" stroke-linecap="round"/>
<path d="M262.8,123.6 L268.5,135.0 L250.6,131.1" fill="none" stroke="#000" stroke-width="3.2" stroke-linejoin="round" stroke-linecap="round"/>
<path d="M443.0,72.5 L448.6,71.2 L453.0,76.9 L457.4,72.1 L453.0,67.7 L458.3,66.4 L494.0,65.8 L499.9,63.4 L525.5,60.2 L537.3,62.8 L539.3,71.7 L533.4,77.6 L521.6,89.4 L509.7,93.4 L496.0,95.7 L494.0,98.3 L493.0,107.2 L488.1,115.0 L484.1,107.2 L474.0,100.0 L470.5,97.0 L469.7,89.2 L467.9,88.3 L463.5,91.8 L460.0,92.7 L448.6,84.8 L442.1,83.0" fill="none" stroke="#000" stroke-width="3.2" stroke-linejoin="round" stroke-linecap="round"/>
<path d="M539.3,71.7 L544.2,74.6" fill="none" stroke="#000" stroke-width="3.2" stroke-linejoin="round" stroke-linecap="round"/>
<path d="M506.3,133.1 L512.4,131.9 L517.7,126.7 L526.4,127.4 L541.3,137.5 L550.1,140.7 L584.2,167.0 L564.1,167.7 L532.6,169.9 L531.7,171.7 L509.8,171.7 L501.0,165.5 L499.3,162.0 L506.3,160.3 L514.2,156.8 L510.7,151.5 L507.2,144.5 L506.3,133.1" fill="none" stroke="#000" stroke-width="3.2" stroke-linejoin="round" stroke-linecap="round"/>
<path d="M487.9,164.7 L499.3,164.7" fill="none" stroke="#000" stroke-width="3.2" stroke-linejoin="round" stroke-linecap="round"/>
<path d="M92.5,134.2 L101.7,139.3 L124.2,143.8 L148.7,143.0 L159.0,138.9 L173.3,138.9 L183.5,145.4 L189.6,141.0 L207.0,146.5" fill="none" stroke="#000" stroke-width="3.2" stroke-linejoin="round" stroke-linecap="round"/>
<path d="M82.3,162.8 L95.6,166.9 L128.3,165.9 L169.2,164.9 L177.4,161.8 L185.5,166.9 L197.8,168.9 L207.0,168.9" fill="none" stroke="#000" stroke-width="3.2" stroke-linejoin="round" stroke-linecap="round"/>
<path d="M69.0,195.1 L71.9,195.1 L86.6,193.1 L94.4,188.0 L104.2,187.7 L108.1,190.0 L131.6,190.0 L134.5,187.7 L140.4,191.6 L164.8,192.2 L201.0,193.9 L251.9,195.5 L259.7,199.4 L283.2,204.3 L289.0,202.3 L310.0,202.0 L335.0,200.6 L370.8,201.4 L374.0,203.3 L436.8,203.3 L444.6,204.3 L456.3,203.3 L469.0,201.2 L478.8,196.5 L502.3,195.5 L512.0,192.5 L590.3,190.6 L594.2,191.6 L599.0,195.1" fill="none" stroke="#000" stroke-width="3.2" stroke-linejoin="round" stroke-linecap="round"/>
</g>
<text x="275.8" y="50.1" font-size="13.2" fill="#dfe3ff">NP</text>
<text x="503.6" y="51.5" font-size="13.2" fill="#111">NA</text>
<text x="240.8" y="102.3" font-size="13.2" fill="#111">STP</text>
<text x="284.8" y="150.8" font-size="13.2" fill="#111">STP</text>
<text x="358.2" y="125.9" font-size="13.2" fill="#111">TP</text>
<text x="472.8" y="87.5" font-size="13.2" fill="#111">STA</text>
<text x="506.8" y="115.5" font-size="13.2" fill="#111">TA</text>
<text x="520.1" y="157.8" font-size="13.2" fill="#111">STA</text>
<text x="123.2" y="123.4" font-size="13.2" fill="#111">TI</text>
<text x="124.7" y="159.4" font-size="13.2" fill="#111">STI</text>
<text x="312.8" y="191.6" font-size="13.2" fill="#111">SAZ</text>
<text x="306.4" y="224.5" font-size="13.2" fill="#dfe3ff">AAZ</text>
<rect x="68.25" y="9.4" width="531.4" height="245.7" fill="none" stroke="#fff" stroke-width="2.2"/>
<rect x="67.20" y="8.3" width="7.74" height="2.2" fill="#000"/>
<rect x="67.20" y="254" width="7.74" height="2.2" fill="#000"/>
<rect x="89.64" y="8.3" width="14.71" height="2.2" fill="#000"/>
<rect x="89.64" y="254" width="14.71" height="2.2" fill="#000"/>
<rect x="119.06" y="8.3" width="14.71" height="2.2" fill="#000"/>
<rect x="119.06" y="254" width="14.71" height="2.2" fill="#000"/>
<rect x="148.48" y="8.3" width="14.71" height="2.2" fill="#000"/>
<rect x="148.48" y="254" width="14.71" height="2.2" fill="#000"/>
<rect x="177.89" y="8.3" width="14.71" height="2.2" fill="#000"/>
<rect x="177.89" y="254" width="14.71" height="2.2" fill="#000"/>
<rect x="207.31" y="8.3" width="14.71" height="2.2" fill="#000"/>
<rect x="207.31" y="254" width="14.71" height="2.2" fill="#000"/>
<rect x="236.72" y="8.3" width="14.71" height="2.2" fill="#000"/>
<rect x="236.72" y="254" width="14.71" height="2.2" fill="#000"/>
<rect x="266.14" y="8.3" width="14.71" height="2.2" fill="#000"/>
<rect x="266.14" y="254" width="14.71" height="2.2" fill="#000"/>
<rect x="295.56" y="8.3" width="14.71" height="2.2" fill="#000"/>
<rect x="295.56" y="254" width="14.71" height="2.2" fill="#000"/>
<rect x="324.97" y="8.3" width="14.71" height="2.2" fill="#000"/>
<rect x="324.97" y="254" width="14.71" height="2.2" fill="#000"/>
<rect x="354.39" y="8.3" width="14.71" height="2.2" fill="#000"/>
<rect x="354.39" y="254" width="14.71" height="2.2" fill="#000"/>
<rect x="383.80" y="8.3" width="14.71" height="2.2" fill="#000"/>
<rect x="383.80" y="254" width="14.71" height="2.2" fill="#000"/>
<rect x="413.22" y="8.3" width="14.71" height="2.2" fill="#000"/>
<rect x="413.22" y="254" width="14.71" height="2.2" fill="#000"/>
<rect x="442.64" y="8.3" width="14.71" height="2.2" fill="#000"/>
<rect x="442.64" y="254" width="14.71" height="2.2" fill="#000"/>
<rect x="472.05" y="8.3" width="14.71" height="2.2" fill="#000"/>
<rect x="472.05" y="254" width="14.71" height="2.2" fill="#000"/>
<rect x="501.47" y="8.3" width="14.71" height="2.2" fill="#000"/>
<rect x="501.47" y="254" width="14.71" height="2.2" fill="#000"/>
<rect x="530.88" y="8.3" width="14.71" height="2.2" fill="#000"/>
<rect x="530.88" y="254" width="14.71" height="2.2" fill="#000"/>
<rect x="560.30" y="8.3" width="14.71" height="2.2" fill="#000"/>
<rect x="560.30" y="254" width="14.71" height="2.2" fill="#000"/>
<rect x="589.72" y="8.3" width="10.88" height="2.2" fill="#000"/>
<rect x="589.72" y="254" width="10.88" height="2.2" fill="#000"/>
<rect x="67.2" y="15.90" width="2.1" height="14.80" fill="#000"/>
<rect x="598.4" y="15.90" width="2.2" height="14.80" fill="#000"/>
<rect x="67.2" y="45.50" width="2.1" height="14.80" fill="#000"/>
<rect x="598.4" y="45.50" width="2.2" height="14.80" fill="#000"/>
<rect x="67.2" y="75.10" width="2.1" height="14.80" fill="#000"/>
<rect x="598.4" y="75.10" width="2.2" height="14.80" fill="#000"/>
<rect x="67.2" y="104.70" width="2.1" height="14.80" fill="#000"/>
<rect x="598.4" y="104.70" width="2.2" height="14.80" fill="#000"/>
<rect x="67.2" y="134.30" width="2.1" height="14.80" fill="#000"/>
<rect x="598.4" y="134.30" width="2.2" height="14.80" fill="#000"/>
<rect x="67.2" y="163.90" width="2.1" height="14.80" fill="#000"/>
<rect x="598.4" y="163.90" width="2.2" height="14.80" fill="#000"/>
<rect x="67.2" y="193.50" width="2.1" height="14.80" fill="#000"/>
<rect x="598.4" y="193.50" width="2.2" height="14.80" fill="#000"/>
<rect x="67.2" y="223.10" width="2.1" height="14.80" fill="#000"/>
<rect x="598.4" y="223.10" width="2.2" height="14.80" fill="#000"/>
<rect x="67.2" y="8.3" width="533.4" height="247.9" fill="none" stroke="#999" stroke-width="0.4"/>
<defs><linearGradient id="cb" x1="0" y1="252.9" x2="0" y2="10.1" gradientUnits="userSpaceOnUse"><stop offset="0" stop-color="#000"/><stop offset="1" stop-color="#fff"/></linearGradient></defs>
<path d="M615,10.3 L623,7 L631,10.3 L631,253.6 L623,257.5 L615,253.6 Z" fill="url(#cb)" filter="url(#cmap)"/>
<path d="M615,253.6 L623,257.5 L631,253.6" fill="none" stroke="#bbb" stroke-width="0.6"/>
<line x1="615" y1="192.6" x2="617.5" y2="192.6" stroke="#333" stroke-width="0.8"/>
<line x1="628.5" y1="192.6" x2="631" y2="192.6" stroke="#333" stroke-width="0.8"/>
<line x1="615" y1="131.8" x2="617.5" y2="131.8" stroke="#333" stroke-width="0.8"/>
<line x1="628.5" y1="131.8" x2="631" y2="131.8" stroke="#333" stroke-width="0.8"/>
<line x1="615" y1="70.9" x2="617.5" y2="70.9" stroke="#333" stroke-width="0.8"/>
<line x1="628.5" y1="70.9" x2="631" y2="70.9" stroke="#333" stroke-width="0.8"/>
<line x1="68" y1="539.1" x2="599" y2="539.1" stroke="#f2f2f2" stroke-width="1"/>
<line x1="68" y1="516.2" x2="599" y2="516.2" stroke="#f2f2f2" stroke-width="1"/>
<line x1="68" y1="493.3" x2="599" y2="493.3" stroke="#f2f2f2" stroke-width="1"/>
<line x1="68" y1="470.4" x2="599" y2="470.4" stroke="#f2f2f2" stroke-width="1"/>
<line x1="68" y1="447.5" x2="599" y2="447.5" stroke="#f2f2f2" stroke-width="1"/>
<line x1="68" y1="424.6" x2="599" y2="424.6" stroke="#f2f2f2" stroke-width="1"/>
<line x1="68" y1="401.7" x2="599" y2="401.7" stroke="#f2f2f2" stroke-width="1"/>
<line x1="68" y1="378.8" x2="599" y2="378.8" stroke="#f2f2f2" stroke-width="1"/>
<line x1="68" y1="355.9" x2="599" y2="355.9" stroke="#f2f2f2" stroke-width="1"/>
<rect x="75.80" y="518.6" width="10.9" height="43.8" fill="#e16c30" stroke="#b9561f" stroke-width="0.7"/>
<line x1="81.25" y1="476.5" x2="81.25" y2="561.0" stroke="#1a1a1a" stroke-width="1.0"/>
<line x1="80.25" y1="476.5" x2="82.25" y2="476.5" stroke="#111" stroke-width="1.1"/>
<line x1="80.25" y1="561.0" x2="82.25" y2="561.0" stroke="#111" stroke-width="1.1"/>
<rect x="88.70" y="537.6" width="10.9" height="24.8" fill="#2097da" stroke="#1778b8" stroke-width="0.7"/>
<line x1="94.15" y1="517.7" x2="94.15" y2="556.2" stroke="#1a1a1a" stroke-width="1.0"/>
<line x1="93.15" y1="517.7" x2="95.15" y2="517.7" stroke="#111" stroke-width="1.1"/>
<line x1="93.15" y1="556.2" x2="95.15" y2="556.2" stroke="#111" stroke-width="1.1"/>
<rect x="101.60" y="535.2" width="10.9" height="27.1" fill="#1f9c45" stroke="#157a37" stroke-width="0.7"/>
<line x1="107.05" y1="517.0" x2="107.05" y2="553.3" stroke="#1a1a1a" stroke-width="1.0"/>
<line x1="106.05" y1="517.0" x2="108.05" y2="517.0" stroke="#111" stroke-width="1.1"/>
<line x1="106.05" y1="553.3" x2="108.05" y2="553.3" stroke="#111" stroke-width="1.1"/>
<rect x="129.00" y="500.2" width="10.9" height="62.1" fill="#e16c30" stroke="#b9561f" stroke-width="0.7"/>
<line x1="134.45" y1="456.4" x2="134.45" y2="543.6" stroke="#1a1a1a" stroke-width="1.0"/>
<line x1="133.45" y1="456.4" x2="135.45" y2="456.4" stroke="#111" stroke-width="1.1"/>
<line x1="133.45" y1="543.6" x2="135.45" y2="543.6" stroke="#111" stroke-width="1.1"/>
<rect x="141.90" y="517.1" width="10.9" height="45.2" fill="#2097da" stroke="#1778b8" stroke-width="0.7"/>
<line x1="147.35" y1="491.1" x2="147.35" y2="542.5" stroke="#1a1a1a" stroke-width="1.0"/>
<line x1="146.35" y1="491.1" x2="148.35" y2="491.1" stroke="#111" stroke-width="1.1"/>
<line x1="146.35" y1="542.5" x2="148.35" y2="542.5" stroke="#111" stroke-width="1.1"/>
<rect x="154.80" y="512.1" width="10.9" height="50.2" fill="#1f9c45" stroke="#157a37" stroke-width="0.7"/>
<line x1="160.25" y1="488.2" x2="160.25" y2="535.8" stroke="#1a1a1a" stroke-width="1.0"/>
<line x1="159.25" y1="488.2" x2="161.25" y2="488.2" stroke="#111" stroke-width="1.1"/>
<line x1="159.25" y1="535.8" x2="161.25" y2="535.8" stroke="#111" stroke-width="1.1"/>
<rect x="182.05" y="496.8" width="10.9" height="65.6" fill="#e16c30" stroke="#b9561f" stroke-width="0.7"/>
<line x1="187.50" y1="457.2" x2="187.50" y2="535.8" stroke="#1a1a1a" stroke-width="1.0"/>
<line x1="186.50" y1="457.2" x2="188.50" y2="457.2" stroke="#111" stroke-width="1.1"/>
<line x1="186.50" y1="535.8" x2="188.50" y2="535.8" stroke="#111" stroke-width="1.1"/>
<rect x="194.95" y="461.4" width="10.9" height="101.0" fill="#2097da" stroke="#1778b8" stroke-width="0.7"/>
<line x1="200.40" y1="397.8" x2="200.40" y2="524.1" stroke="#1a1a1a" stroke-width="1.0"/>
<line x1="199.40" y1="397.8" x2="201.40" y2="397.8" stroke="#111" stroke-width="1.1"/>
<line x1="199.40" y1="524.1" x2="201.40" y2="524.1" stroke="#111" stroke-width="1.1"/>
<rect x="207.85" y="440.2" width="10.9" height="122.2" fill="#1f9c45" stroke="#157a37" stroke-width="0.7"/>
<line x1="213.30" y1="381.8" x2="213.30" y2="497.8" stroke="#1a1a1a" stroke-width="1.0"/>
<line x1="212.30" y1="381.8" x2="214.30" y2="381.8" stroke="#111" stroke-width="1.1"/>
<line x1="212.30" y1="497.8" x2="214.30" y2="497.8" stroke="#111" stroke-width="1.1"/>
<rect x="235.00" y="475.0" width="10.9" height="87.4" fill="#e16c30" stroke="#b9561f" stroke-width="0.7"/>
<line x1="240.45" y1="432.3" x2="240.45" y2="517.3" stroke="#1a1a1a" stroke-width="1.0"/>
<line x1="239.45" y1="432.3" x2="241.45" y2="432.3" stroke="#111" stroke-width="1.1"/>
<line x1="239.45" y1="517.3" x2="241.45" y2="517.3" stroke="#111" stroke-width="1.1"/>
<rect x="247.90" y="447.2" width="10.9" height="115.1" fill="#2097da" stroke="#1778b8" stroke-width="0.7"/>
<line x1="253.35" y1="391.7" x2="253.35" y2="501.9" stroke="#1a1a1a" stroke-width="1.0"/>
<line x1="252.35" y1="391.7" x2="254.35" y2="391.7" stroke="#111" stroke-width="1.1"/>
<line x1="252.35" y1="501.9" x2="254.35" y2="501.9" stroke="#111" stroke-width="1.1"/>
<rect x="260.80" y="404.0" width="10.9" height="158.4" fill="#1f9c45" stroke="#157a37" stroke-width="0.7"/>
<line x1="266.25" y1="344.5" x2="266.25" y2="463.4" stroke="#1a1a1a" stroke-width="1.0"/>
<line x1="265.25" y1="344.5" x2="267.25" y2="344.5" stroke="#111" stroke-width="1.1"/>
<line x1="265.25" y1="463.4" x2="267.25" y2="463.4" stroke="#111" stroke-width="1.1"/>
<rect x="290.10" y="498.2" width="10.9" height="64.2" fill="#e16c30" stroke="#b9561f" stroke-width="0.7"/>
<line x1="295.55" y1="475.4" x2="295.55" y2="520.4" stroke="#1a1a1a" stroke-width="1.0"/>
<line x1="294.55" y1="475.4" x2="296.55" y2="475.4" stroke="#111" stroke-width="1.1"/>
<line x1="294.55" y1="520.4" x2="296.55" y2="520.4" stroke="#111" stroke-width="1.1"/>
<rect x="303.00" y="478.6" width="10.9" height="83.8" fill="#2097da" stroke="#1778b8" stroke-width="0.7"/>
<line x1="308.45" y1="447.3" x2="308.45" y2="509.4" stroke="#1a1a1a" stroke-width="1.0"/>
<line x1="307.45" y1="447.3" x2="309.45" y2="447.3" stroke="#111" stroke-width="1.1"/>
<line x1="307.45" y1="509.4" x2="309.45" y2="509.4" stroke="#111" stroke-width="1.1"/>
<rect x="315.90" y="457.2" width="10.9" height="105.1" fill="#1f9c45" stroke="#157a37" stroke-width="0.7"/>
<line x1="321.35" y1="415.4" x2="321.35" y2="497.3" stroke="#1a1a1a" stroke-width="1.0"/>
<line x1="320.35" y1="415.4" x2="322.35" y2="415.4" stroke="#111" stroke-width="1.1"/>
<line x1="320.35" y1="497.3" x2="322.35" y2="497.3" stroke="#111" stroke-width="1.1"/>
<rect x="343.55" y="534.8" width="10.9" height="27.6" fill="#e16c30" stroke="#b9561f" stroke-width="0.7"/>
<line x1="349.00" y1="514.3" x2="349.00" y2="554.5" stroke="#1a1a1a" stroke-width="1.0"/>
<line x1="348.00" y1="514.3" x2="350.00" y2="514.3" stroke="#111" stroke-width="1.1"/>
<line x1="348.00" y1="554.5" x2="350.00" y2="554.5" stroke="#111" stroke-width="1.1"/>
<rect x="356.45" y="527.5" width="10.9" height="34.9" fill="#2097da" stroke="#1778b8" stroke-width="0.7"/>
<line x1="361.90" y1="503.1" x2="361.90" y2="551.0" stroke="#1a1a1a" stroke-width="1.0"/>
<line x1="360.90" y1="503.1" x2="362.90" y2="503.1" stroke="#111" stroke-width="1.1"/>
<line x1="360.90" y1="551.0" x2="362.90" y2="551.0" stroke="#111" stroke-width="1.1"/>
<rect x="369.35" y="532.6" width="10.9" height="29.7" fill="#1f9c45" stroke="#157a37" stroke-width="0.7"/>
<line x1="374.80" y1="520.6" x2="374.80" y2="544.0" stroke="#1a1a1a" stroke-width="1.0"/>
<line x1="373.80" y1="520.6" x2="375.80" y2="520.6" stroke="#111" stroke-width="1.1"/>
<line x1="373.80" y1="544.0" x2="375.80" y2="544.0" stroke="#111" stroke-width="1.1"/>
<rect x="395.75" y="529.1" width="10.9" height="33.2" fill="#e16c30" stroke="#b9561f" stroke-width="0.7"/>
<line x1="401.20" y1="507.3" x2="401.20" y2="550.3" stroke="#1a1a1a" stroke-width="1.0"/>
<line x1="400.20" y1="507.3" x2="402.20" y2="507.3" stroke="#111" stroke-width="1.1"/>
<line x1="400.20" y1="550.3" x2="402.20" y2="550.3" stroke="#111" stroke-width="1.1"/>
<rect x="408.65" y="527.5" width="10.9" height="34.9" fill="#2097da" stroke="#1778b8" stroke-width="0.7"/>
<line x1="414.10" y1="507.3" x2="414.10" y2="547.5" stroke="#1a1a1a" stroke-width="1.0"/>
<line x1="413.10" y1="507.3" x2="415.10" y2="507.3" stroke="#111" stroke-width="1.1"/>
<line x1="413.10" y1="547.5" x2="415.10" y2="547.5" stroke="#111" stroke-width="1.1"/>
<rect x="421.55" y="534.1" width="10.9" height="28.3" fill="#1f9c45" stroke="#157a37" stroke-width="0.7"/>
<line x1="427.00" y1="521.3" x2="427.00" y2="546.3" stroke="#1a1a1a" stroke-width="1.0"/>
<line x1="426.00" y1="521.3" x2="428.00" y2="521.3" stroke="#111" stroke-width="1.1"/>
<line x1="426.00" y1="546.3" x2="428.00" y2="546.3" stroke="#111" stroke-width="1.1"/>
<rect x="446.55" y="542.5" width="10.9" height="19.9" fill="#e16c30" stroke="#b9561f" stroke-width="0.7"/>
<line x1="452.00" y1="524.1" x2="452.00" y2="559.6" stroke="#1a1a1a" stroke-width="1.0"/>
<line x1="451.00" y1="524.1" x2="453.00" y2="524.1" stroke="#111" stroke-width="1.1"/>
<line x1="451.00" y1="559.6" x2="453.00" y2="559.6" stroke="#111" stroke-width="1.1"/>
<rect x="459.45" y="533.1" width="10.9" height="29.2" fill="#2097da" stroke="#1778b8" stroke-width="0.7"/>
<line x1="464.90" y1="508.2" x2="464.90" y2="556.8" stroke="#1a1a1a" stroke-width="1.0"/>
<line x1="463.90" y1="508.2" x2="465.90" y2="508.2" stroke="#111" stroke-width="1.1"/>
<line x1="463.90" y1="556.8" x2="465.90" y2="556.8" stroke="#111" stroke-width="1.1"/>
<rect x="472.35" y="529.9" width="10.9" height="32.5" fill="#1f9c45" stroke="#157a37" stroke-width="0.7"/>
<line x1="477.80" y1="515.2" x2="477.80" y2="544.0" stroke="#1a1a1a" stroke-width="1.0"/>
<line x1="476.80" y1="515.2" x2="478.80" y2="515.2" stroke="#111" stroke-width="1.1"/>
<line x1="476.80" y1="544.0" x2="478.80" y2="544.0" stroke="#111" stroke-width="1.1"/>
<rect x="500.55" y="507.4" width="10.9" height="55.0" fill="#e16c30" stroke="#b9561f" stroke-width="0.7"/>
<line x1="506.00" y1="461.2" x2="506.00" y2="552.8" stroke="#1a1a1a" stroke-width="1.0"/>
<line x1="505.00" y1="461.2" x2="507.00" y2="461.2" stroke="#111" stroke-width="1.1"/>
<line x1="505.00" y1="552.8" x2="507.00" y2="552.8" stroke="#111" stroke-width="1.1"/>
<rect x="513.45" y="528.9" width="10.9" height="33.5" fill="#2097da" stroke="#1778b8" stroke-width="0.7"/>
<line x1="518.90" y1="507.0" x2="518.90" y2="549.9" stroke="#1a1a1a" stroke-width="1.0"/>
<line x1="517.90" y1="507.0" x2="519.90" y2="507.0" stroke="#111" stroke-width="1.1"/>
<line x1="517.90" y1="549.9" x2="519.90" y2="549.9" stroke="#111" stroke-width="1.1"/>
<rect x="526.35" y="525.2" width="10.9" height="37.1" fill="#1f9c45" stroke="#157a37" stroke-width="0.7"/>
<line x1="531.80" y1="503.9" x2="531.80" y2="545.4" stroke="#1a1a1a" stroke-width="1.0"/>
<line x1="530.80" y1="503.9" x2="532.80" y2="503.9" stroke="#111" stroke-width="1.1"/>
<line x1="530.80" y1="545.4" x2="532.80" y2="545.4" stroke="#111" stroke-width="1.1"/>
<rect x="553.55" y="510.1" width="10.9" height="52.3" fill="#e16c30" stroke="#b9561f" stroke-width="0.7"/>
<line x1="559.00" y1="464.1" x2="559.00" y2="555.0" stroke="#1a1a1a" stroke-width="1.0"/>
<line x1="558.00" y1="464.1" x2="560.00" y2="464.1" stroke="#111" stroke-width="1.1"/>
<line x1="558.00" y1="555.0" x2="560.00" y2="555.0" stroke="#111" stroke-width="1.1"/>
<rect x="566.45" y="530.9" width="10.9" height="31.5" fill="#2097da" stroke="#1778b8" stroke-width="0.7"/>
<line x1="571.90" y1="507.0" x2="571.90" y2="553.5" stroke="#1a1a1a" stroke-width="1.0"/>
<line x1="570.90" y1="507.0" x2="572.90" y2="507.0" stroke="#111" stroke-width="1.1"/>
<line x1="570.90" y1="553.5" x2="572.90" y2="553.5" stroke="#111" stroke-width="1.1"/>
<rect x="579.35" y="528.9" width="10.9" height="33.5" fill="#1f9c45" stroke="#157a37" stroke-width="0.7"/>
<line x1="584.80" y1="508.6" x2="584.80" y2="548.8" stroke="#1a1a1a" stroke-width="1.0"/>
<line x1="583.80" y1="508.6" x2="585.80" y2="508.6" stroke="#111" stroke-width="1.1"/>
<line x1="583.80" y1="548.8" x2="585.80" y2="548.8" stroke="#111" stroke-width="1.1"/>
<path d="M67.2,332.9 L599.3,332.9 L599.3,562.6 L67.2,562.6 Z" fill="none" stroke="#000" stroke-width="1.8"/>
<rect x="431.2" y="344.9" width="148.4" height="90.6" fill="#fff" stroke="#000" stroke-width="1.2"/>
<rect x="436.9" y="355.4" width="11.9" height="11.2" fill="#e16c30"/>
<rect x="436.9" y="385.4" width="11.9" height="11.2" fill="#2097da"/>
<rect x="436.9" y="414.4" width="11.9" height="11.2" fill="#1f9c45"/>
</svg>
<div class="t" style="left:0.0px;top:-4.9px;font-size:21.5px;font-weight:bold;">a</div>
<div class="t" style="left:-0.6px;top:316.8px;font-size:21.5px;font-weight:bold;">b</div>
<div class="t" style="right:624.0px;top:23.4px;font-size:15px;">60° N</div>
<div class="t" style="right:624.0px;top:67.1px;font-size:15px;">30° N</div>
<div class="t" style="right:624.0px;top:111.8px;font-size:15px;">EQ</div>
<div class="t" style="right:624.0px;top:155.7px;font-size:15px;">30° S</div>
<div class="t" style="right:624.0px;top:199.7px;font-size:15px;">60° S</div>
<div class="t" style="left:163.8px;top:261.5px;font-size:15px;width:80px;margin-left:-40px;text-align:center;">90° E</div>
<div class="t" style="left:296.2px;top:261.5px;font-size:15px;width:80px;margin-left:-40px;text-align:center;">180° W</div>
<div class="t" style="left:427.2px;top:261.5px;font-size:15px;width:80px;margin-left:-40px;text-align:center;">90° W</div>
<div class="t" style="left:561.0px;top:261.5px;font-size:15px;width:80px;margin-left:-40px;text-align:center;">0°</div>
<div class="t" style="left:314.0px;top:284.0px;font-size:15.0px;">Longitude</div>
<div class="t" style="left:5.5px;top:130.7px;font-size:15px;transform:translate(-50%,-50%) rotate(-90deg);transform-origin:center;">Latitude</div>
<div class="t" style="left:638.2px;top:246.8px;font-size:15.0px;">0</div>
<div class="t" style="left:638.2px;top:186.0px;font-size:15.0px;">5</div>
<div class="t" style="left:638.2px;top:125.2px;font-size:15.0px;">10</div>
<div class="t" style="left:638.2px;top:64.3px;font-size:15.0px;">15</div>
<div class="t" style="left:638.2px;top:3.5px;font-size:15.0px;">20</div>
<div class="t" style="left:674.5px;top:133px;font-size:15.5px;transform:translate(-50%,-50%) rotate(-90deg);">NO<span style="font-size:11px;position:relative;top:3.5px;">3</span><span style="font-size:11.5px;position:relative;top:-5px;">&minus;</span> <span style="font-size:11.5px;position:relative;top:3.5px;">0&ndash;74 m</span> (&mu;mol kg<span style="font-size:10.5px;position:relative;top:-6px;">&minus;1</span>)</div>
<div class="t" style="left:609.3px;top:216.5px;font-size:10.9px;transform:translate(-50%,-50%) rotate(-90deg);">Ocean data view</div>
<div class="t" style="right:624.4px;top:554.9px;font-size:15.8px;">0.00</div>
<div class="t" style="right:624.4px;top:509.1px;font-size:15.8px;">0.04</div>
<div class="t" style="right:624.4px;top:463.3px;font-size:15.8px;">0.08</div>
<div class="t" style="right:624.4px;top:417.5px;font-size:15.8px;">0.12</div>
<div class="t" style="right:624.4px;top:371.7px;font-size:15.8px;">0.16</div>
<div class="t" style="right:624.4px;top:325.9px;font-size:15.8px;">0.20</div>
<div class="t" style="left:606.0px;top:554.9px;font-size:15.8px;">0.0</div>
<div class="t" style="left:606.0px;top:509.1px;font-size:15.8px;">0.2</div>
<div class="t" style="left:606.0px;top:463.3px;font-size:15.8px;">0.4</div>
<div class="t" style="left:606.0px;top:417.5px;font-size:15.8px;">0.6</div>
<div class="t" style="left:606.0px;top:371.7px;font-size:15.8px;">0.8</div>
<div class="t" style="left:606.0px;top:325.9px;font-size:15.8px;">1.0</div>
<div class="t" style="left:94.5px;top:568.2px;font-size:15px;width:60px;margin-left:-30px;text-align:center;">AAZ</div>
<div class="t" style="left:147.7px;top:568.2px;font-size:15px;width:60px;margin-left:-30px;text-align:center;">SAZ</div>
<div class="t" style="left:200.7px;top:568.2px;font-size:15px;width:60px;margin-left:-30px;text-align:center;">STP</div>
<div class="t" style="left:253.7px;top:568.2px;font-size:15px;width:60px;margin-left:-30px;text-align:center;">STA</div>
<div class="t" style="left:308.8px;top:568.2px;font-size:15px;width:60px;margin-left:-30px;text-align:center;">STI</div>
<div class="t" style="left:362.2px;top:568.2px;font-size:15px;width:60px;margin-left:-30px;text-align:center;">TP</div>
<div class="t" style="left:414.4px;top:568.2px;font-size:15px;width:60px;margin-left:-30px;text-align:center;">TA</div>
<div class="t" style="left:465.2px;top:568.2px;font-size:15px;width:60px;margin-left:-30px;text-align:center;">TI</div>
<div class="t" style="left:519.2px;top:568.2px;font-size:15px;width:60px;margin-left:-30px;text-align:center;">NA</div>
<div class="t" style="left:572.2px;top:568.2px;font-size:15px;width:60px;margin-left:-30px;text-align:center;">NP</div>
<div class="t" style="left:454.7px;top:354.2px;font-size:13.0px;">NDP : NPP</div>
<div class="t" style="left:454.7px;top:384.2px;font-size:13.0px;">NDP : C export</div>
<div class="t" style="left:454.7px;top:413.2px;font-size:13.0px;">NDX : C export</div>
<div class="t" style="left:10.5px;top:448px;font-size:15px;transform:translate(-50%,-50%) rotate(-90deg);">NDP<sub style="font-size:10.5px;vertical-align:-3px;">74 m</sub> : NPP</div>
<div class="t" style="left:647px;top:448px;font-size:15px;transform:translate(-50%,-50%) rotate(-90deg);">NDP <sub style="font-size:10.5px;vertical-align:-3px;">74 m</sub> or NDX <sub style="font-size:10.5px;vertical-align:-3px;">74 m</sub> : C export</div>
</body></html>
